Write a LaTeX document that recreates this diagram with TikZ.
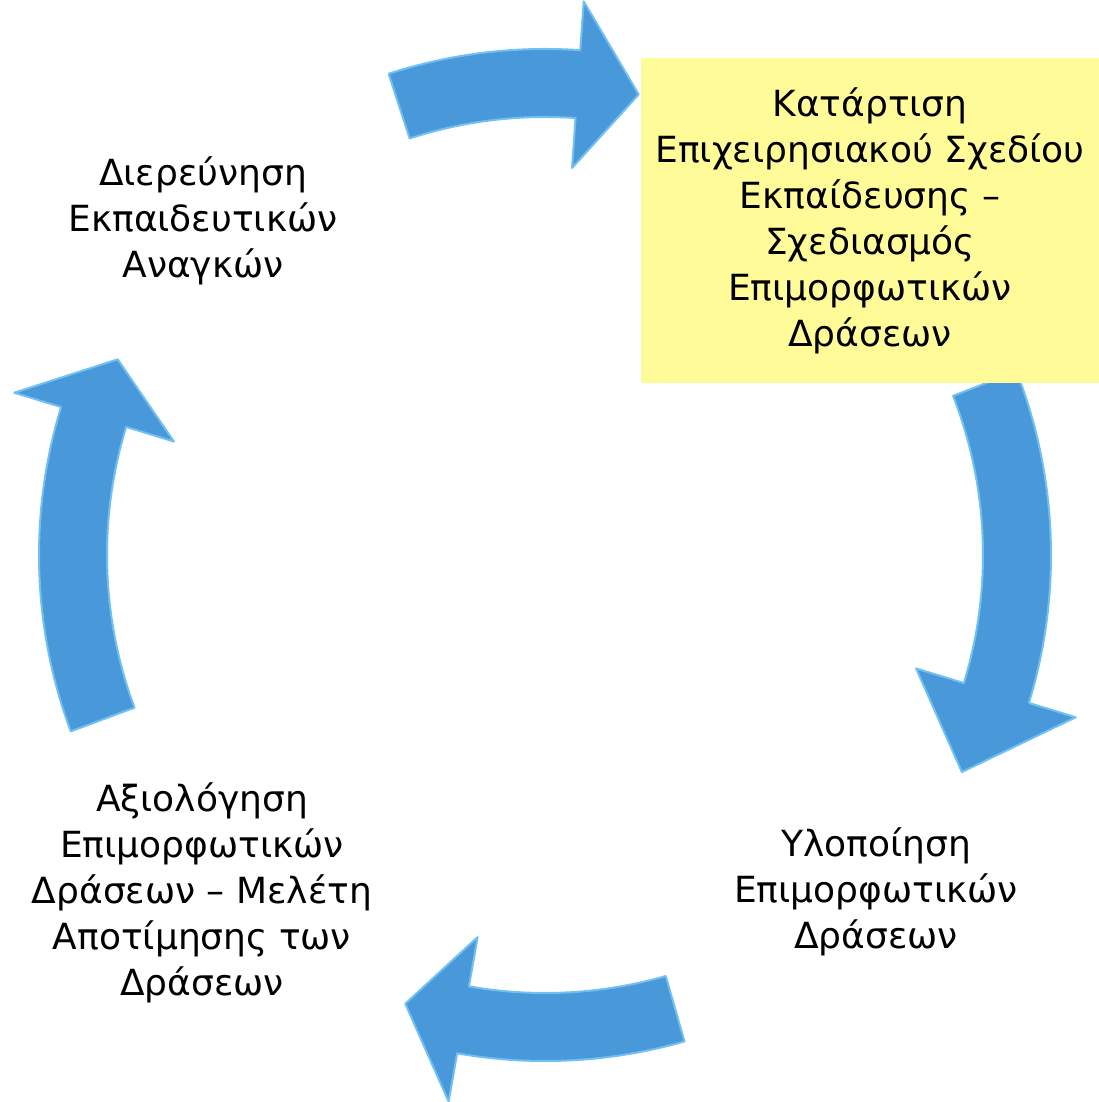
\documentclass[tikz,border=0pt]{standalone}
\usepackage{fontspec}
\setmainfont{DejaVu Sans}
\usetikzlibrary{positioning}
\definecolor{arrowblue}{RGB}{72,152,218}
\definecolor{arrowrim}{RGB}{112,192,242}
\definecolor{boxyellow}{RGB}{255,251,153}
\tikzset{
  stagetext/.style = {align=center, font=\fontsize{36}{46}\selectfont, inner sep=0pt},
  stagebox/.style = {stagetext, fill=boxyellow, minimum width=458pt, minimum height=325pt},
  cyclearrow/.style = {fill=arrowblue, draw=arrowrim, line width=2pt, line join=round},
}
% curved block arrow: tail angle, head base angle, tip angle
\newcommand{\cyclearc}[3]{%
  \draw[cyclearrow] (#1:506pt) arc[start angle=#1, end angle=#2, radius=506pt]
    -- (#2:555pt) -- (#3:470pt) -- (#2:388pt) -- (#2:438pt)
    arc[start angle=#2, end angle=#1, radius=438pt] -- cycle;}

\begin{document}
\begin{tikzpicture}[x=1pt, y=1pt]
  \useasboundingbox (0,0) rectangle (1099,1102);

  % the four arrows of the cycle
  \begin{scope}[shift={(545,547)}]
    \cyclearc{108}{86}{78.5}
    \cyclearc{21.3}{-17}{-27.5}
    \cyclearc{-74}{-100}{-107.3}
    \cyclearc{200.4}{163}{155.4}
  \end{scope}

  % stages
  \node[stagetext] (needs) at (203,881) {Διερεύνηση\\Εκπαιδευτικών\\Αναγκών};
  \node[stagebox] (plan) at (870,881.5) {Κατάρτιση\\Επιχειρησιακού Σχεδίου\\Εκπαίδευσης –\\Σχεδιασμός\\Επιμορφωτικών\\Δράσεων};
  \node[stagetext] (implement) at (876,210) {Υλοποίηση\\Επιμορφωτικών\\Δράσεων};
  \node[stagetext] (evaluate) at (202,209) {Αξιολόγηση\\Επιμορφωτικών\\Δράσεων – Μελέτη\\Αποτίμησης των\\Δράσεων};
\end{tikzpicture}
\end{document}
